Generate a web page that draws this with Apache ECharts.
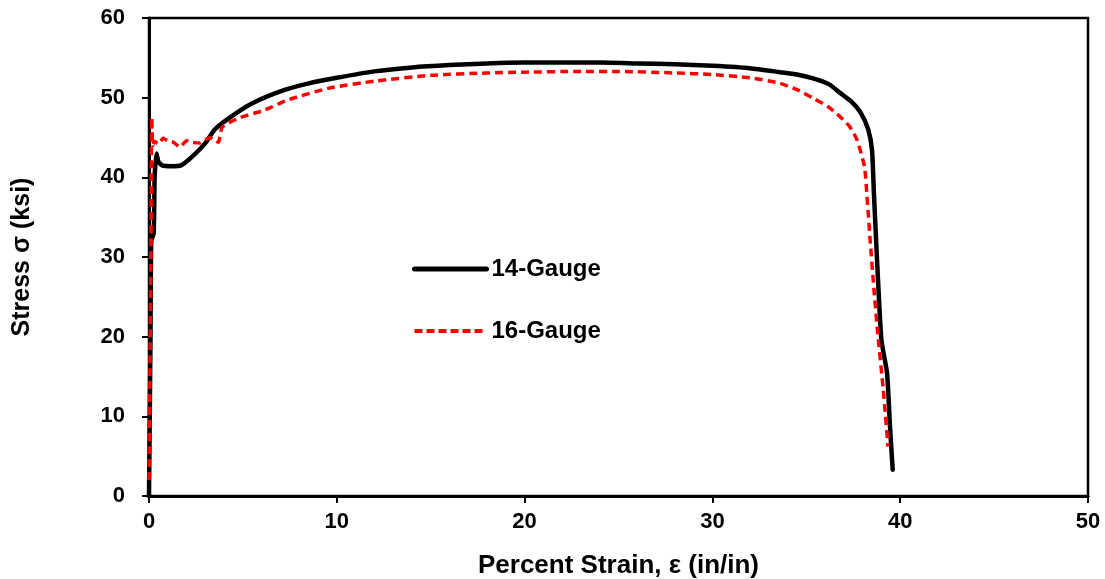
<!DOCTYPE html>
<html>
<head>
<meta charset="utf-8">
<script src="https://cdn.jsdelivr.net/npm/echarts@6/dist/echarts.min.js"></script>
<style>
html, body { margin: 0; padding: 0; background: #fff; }
#box1 { width: 1105px; height: 579px; }
</style>
</head>
<body>
<div id="box1"></div>
<script>
var seriesNames = ['14-Gauge', '16-Gauge'];

// 14-Gauge: strain (%) and stress (ksi)
var strain14 = [0, 0.08, 0.12, 0.25, 0.3, 0.4, 0.5, 0.7, 1.2, 1.7, 2.3, 3.0, 3.5, 4.3, 5.5, 7, 8.5, 10, 12, 14, 16, 18, 20, 22, 24, 26, 28, 30, 32, 33.6, 34.5, 35.4, 36.2, 36.8, 37.4, 37.9, 38.3, 38.5, 38.6, 38.7, 38.8, 39.0, 39.3, 39.45, 39.6];
var stress14 = [0, 20, 32, 33, 40, 43, 42, 41.5, 41.4, 41.5, 42.6, 44.3, 46, 47.5, 49.3, 50.8, 51.8, 52.5, 53.3, 53.8, 54.1, 54.3, 54.4, 54.4, 54.4, 54.3, 54.2, 54.0, 53.7, 53.2, 52.9, 52.4, 51.7, 50.6, 49.5, 48.1, 46, 43.4, 38, 33, 28, 19.6, 15.4, 9, 3.3];

// 16-Gauge
var strain16 = [0, 0.05, 0.1, 0.12, 0.15, 0.2, 0.3, 0.5, 0.75, 1.0, 1.3, 1.65, 2.0, 2.2, 2.7, 3.0, 3.25, 3.5, 3.7, 3.9, 4.85, 6.1, 7.5, 9.6, 12.1, 15, 18, 20, 23, 25, 28, 30, 32, 33.6, 34.5, 35.4, 36.2, 36.8, 37.3, 37.7, 38.1, 38.25, 38.4, 38.6, 38.8, 39.1, 39.35];
var stress16 = [2, 15, 30, 40, 47.5, 44, 44.5, 44.2, 44.9, 44.6, 44.4, 43.8, 44.6, 44.4, 44.3, 44.7, 45, 44.6, 44.4, 46.3, 47.5, 48.4, 49.8, 51.2, 52.1, 52.8, 53.1, 53.2, 53.3, 53.3, 53.1, 52.9, 52.5, 51.8, 51.0, 49.9, 48.8, 47.6, 46.4, 44.7, 41.3, 37, 32.1, 26, 20.5, 13.3, 6.2];

function pairs(xs, ys) {
    return xs.map(function (x, i) { return [x, ys[i]]; });
}

var chartDom = document.getElementById('box1');
var myChart = echarts.init(chartDom);
var font = 'Liberation Sans, Arial, sans-serif';

var option = {
    animation: false,
    backgroundColor: '#fff',
    grid: {
        left: 149,
        right: 17,
        top: 18,
        bottom: 83,
        outerBoundsMode: 'none',
        show: true,
        borderColor: '#000',
        borderWidth: 2.5,
        backgroundColor: 'transparent'
    },
    legend: {
        orient: 'vertical',
        left: 407,
        top: 252,
        itemWidth: 72,
        itemHeight: 14,
        itemGap: 38,
        itemStyle: { opacity: 0 },
        data: [
            { name: seriesNames[0], lineStyle: { color: '#000', width: 5 } },
            { name: seriesNames[1], lineStyle: { color: '#ff0000', width: 4, type: [8, 4] } }
        ],
        textStyle: {
            fontFamily: font,
            fontWeight: 'bold',
            fontSize: 24,
            color: '#000'
        }
    },
    xAxis: {
        type: 'value',
        min: 0,
        max: 50,
        interval: 10,
        name: 'Percent Strain, ε (in/in)',
        nameLocation: 'middle',
        nameGap: 57,
        nameTextStyle: { fontFamily: font, fontWeight: 'bold', fontSize: 26, color: '#000' },
        axisLine: { lineStyle: { color: '#000', width: 3 } },
        axisTick: { inside: false, length: 7, lineStyle: { color: '#000', width: 2 } },
        axisLabel: { margin: 15, fontFamily: font, fontWeight: 'bold', fontSize: 22, color: '#000' },
        splitLine: { show: false }
    },
    yAxis: {
        type: 'value',
        min: 0,
        max: 60,
        interval: 10,
        name: 'Stress σ (ksi)',
        nameLocation: 'middle',
        nameGap: 114,
        nameTextStyle: { fontFamily: font, fontWeight: 'bold', fontSize: 25, color: '#000' },
        axisLine: { lineStyle: { color: '#000', width: 3 } },
        axisTick: { inside: false, length: 7, lineStyle: { color: '#000', width: 2 } },
        axisLabel: { margin: 24, fontFamily: font, fontWeight: 'bold', fontSize: 22, color: '#000' },
        splitLine: { show: false }
    },
    series: [
        {
            name: seriesNames[0],
            type: 'line',
            symbol: 'none',
            showSymbol: false,
            smooth: 0.2,
            z: 3,
            lineStyle: { color: '#000', width: 4.5, cap: 'round', join: 'round' },
            itemStyle: { color: '#000' },
            data: pairs(strain14, stress14)
        },
        {
            name: seriesNames[1],
            type: 'line',
            symbol: 'none',
            showSymbol: false,
            smooth: 0.2,
            z: 4,
            lineStyle: { color: '#ff0000', width: 3.5, type: [8, 5] },
            itemStyle: { color: '#ff0000' },
            data: pairs(strain16, stress16)
        }
    ]
};

myChart.setOption(option);
</script>
</body>
</html>
